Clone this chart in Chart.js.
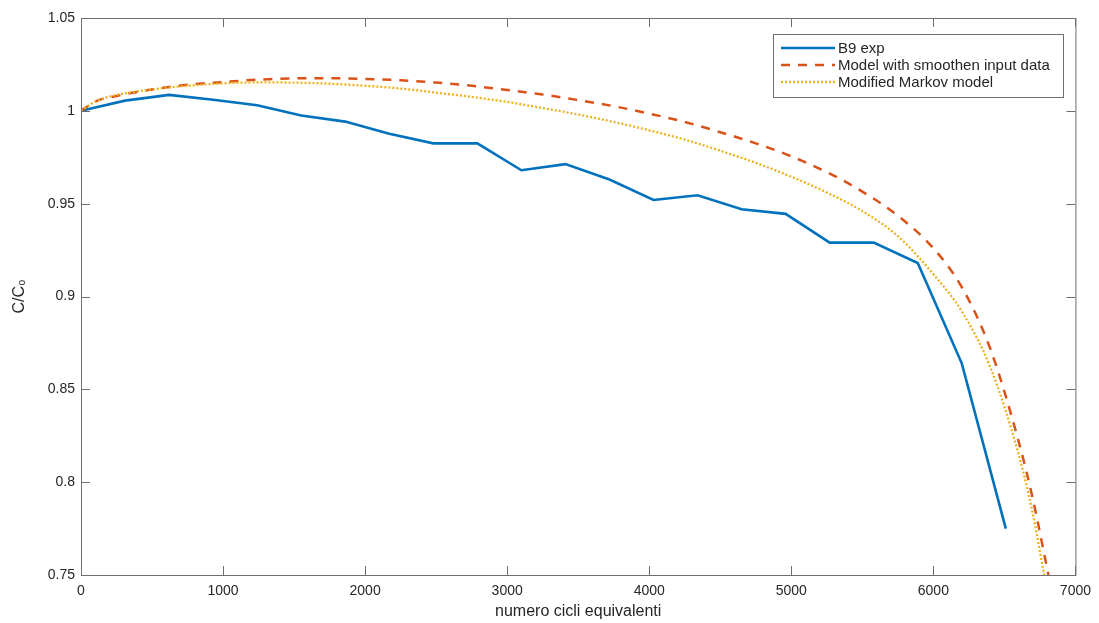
<!DOCTYPE html>
<html>
<head>
<meta charset="utf-8">
<script src="https://cdn.jsdelivr.net/npm/chart.js@4/dist/chart.umd.min.js"></script>
<style>
  html, body { margin: 0; padding: 0; background: #fff; }
  #c { display: block; }
</style>
</head>
<body>
<canvas id="c" width="1099" height="623"></canvas>
<script>
'use strict';
// B9 exp (measured points)
const expX = [0, 310, 620, 930, 1240, 1550, 1860, 2170, 2480, 2790, 3100, 3410, 3720, 4030, 4340, 4650, 4960, 5270, 5580, 5890, 6200, 6510];
const expY = [1.000, 1.0055, 1.0086, 1.006, 1.003, 0.9975, 0.9942, 0.9876, 0.9825, 0.9825, 0.968, 0.9713, 0.963, 0.952, 0.9545, 0.947, 0.9445, 0.929, 0.929, 0.918, 0.864, 0.775];

// Model with smoothen input data
const smoothX = [0, 100, 250, 500, 750, 1000, 1250, 1500, 1750, 2000, 2250, 2500, 2750, 3000, 3250, 3500, 3750, 4000, 4250, 4500, 4750, 5000, 5250, 5500, 5750, 6000, 6200, 6400, 6600, 6700, 6810];
const smoothY = [1.000, 1.005, 1.008, 1.0115, 1.014, 1.0155, 1.0168, 1.0175, 1.0176, 1.0172, 1.0165, 1.0152, 1.0135, 1.0112, 1.0088, 1.0058, 1.0025, 0.9985, 0.994, 0.9885, 0.9825, 0.9755, 0.967, 0.9565, 0.9435, 0.926, 0.905, 0.872, 0.822, 0.791, 0.750];

// Modified Markov model
const markovX = [0, 100, 250, 500, 750, 1000, 1250, 1500, 1750, 2000, 2250, 2500, 2750, 3000, 3250, 3500, 3750, 4000, 4250, 4500, 4750, 5000, 5250, 5500, 5750, 6000, 6200, 6400, 6600, 6700, 6780];
const markovY = [1.000, 1.005, 1.0085, 1.0115, 1.0135, 1.0148, 1.0153, 1.0152, 1.0146, 1.0135, 1.012, 1.0098, 1.0075, 1.0048, 1.0015, 0.998, 0.994, 0.9895, 0.9845, 0.9785, 0.972, 0.9645, 0.956, 0.946, 0.9325, 0.912, 0.892, 0.862, 0.815, 0.783, 0.750];

const seriesLabels = ['B9 exp', 'Model with smoothen input data', 'Modified Markov model'];
const xTitle = 'numero cicli equivalenti';
const yTitle = 'C/C\u2080';

const FONT = "'Liberation Sans', Arial, Helvetica, sans-serif";
const TEXT = '#262626';
const AXIS = '#6f6f6f';

const pts = (xs, ys) => xs.map((x, i) => ({ x, y: ys[i] }));

// box round the plot, with inward ticks on all four sides (MATLAB style)
const framePlugin = {
  id: 'frame',
  afterDatasetsDraw(chart) {
    const { ctx, chartArea: a, scales } = chart;
    const len = 9;
    ctx.save();
    ctx.strokeStyle = AXIS;
    ctx.lineWidth = 1;
    ctx.strokeRect(a.left + 0.5, a.top + 0.5, a.right - a.left, a.bottom - a.top);
    ctx.beginPath();
    scales.x.ticks.forEach(t => {
      const px = Math.round(scales.x.getPixelForValue(t.value)) + 0.5;
      ctx.moveTo(px, a.bottom); ctx.lineTo(px, a.bottom - len);
      ctx.moveTo(px, a.top); ctx.lineTo(px, a.top + len);
    });
    scales.y.ticks.forEach(t => {
      const py = Math.round(scales.y.getPixelForValue(t.value)) + 0.5;
      ctx.moveTo(a.left, py); ctx.lineTo(a.left + len, py);
      ctx.moveTo(a.right, py); ctx.lineTo(a.right - len, py);
    });
    ctx.stroke();
    ctx.restore();
  }
};

// legend box inside the plot, top right
const legendPlugin = {
  id: 'boxLegend',
  afterDraw(chart) {
    const { ctx } = chart;
    const x0 = 773, y0 = 34, w = 290, h = 63;
    ctx.save();
    ctx.fillStyle = '#fff';
    ctx.fillRect(x0, y0, w, h);
    ctx.strokeStyle = AXIS;
    ctx.lineWidth = 1;
    ctx.strokeRect(x0 + 0.5, y0 + 0.5, w, h);
    ctx.font = '15px ' + FONT;
    ctx.textBaseline = 'middle';
    chart.data.datasets.forEach((ds, i) => {
      const y = y0 + 14 + i * 17;
      ctx.strokeStyle = ds.borderColor;
      ctx.lineWidth = ds.borderWidth;
      ctx.setLineDash(ds.borderDash || []);
      ctx.beginPath();
      ctx.moveTo(x0 + 8, y); ctx.lineTo(x0 + 62, y);
      ctx.stroke();
      ctx.setLineDash([]);
      ctx.fillStyle = TEXT;
      ctx.fillText(ds.label, x0 + 65, y + 1);
    });
    ctx.restore();
  }
};

new Chart(document.getElementById('c'), {
  type: 'line',
  data: {
    datasets: [
      { label: seriesLabels[0], data: pts(expX, expY), borderColor: '#0072BD', borderWidth: 2.6, pointRadius: 0, tension: 0, order: 2 },
      { label: seriesLabels[1], data: pts(smoothX, smoothY), borderColor: '#D95319', borderWidth: 2.5, borderDash: [9, 8], pointRadius: 0, cubicInterpolationMode: 'monotone', order: 1 },
      { label: seriesLabels[2], data: pts(markovX, markovY), borderColor: '#EDB120', borderWidth: 2.3, borderDash: [2, 2], pointRadius: 0, cubicInterpolationMode: 'monotone', order: 0 },
    ],
  },
  options: {
    responsive: false, animation: false,
    layout: { padding: { top: 18, right: 17, left: 0, bottom: 0 } },
    plugins: { legend: { display: false }, tooltip: { enabled: false } },
    scales: {
      x: {
        type: 'linear', min: 0, max: 7000,
        grid: { display: false, drawTicks: false }, border: { display: false },
        ticks: { stepSize: 1000, padding: 8, color: TEXT, font: { family: FONT, size: 14 }, maxRotation: 0, callback: (v) => String(v) },
        title: { display: true, text: xTitle, color: TEXT, font: { family: FONT, size: 16 }, padding: { top: 0, bottom: 2 } },
        afterFit: (s) => { s.height = 48; },
      },
      y: {
        min: 0.75, max: 1.05,
        grid: { display: false, drawTicks: false }, border: { display: false },
        ticks: { stepSize: 0.05, padding: 6, color: TEXT, font: { family: FONT, size: 14 }, callback: (v) => String(+v.toFixed(2)) },
        title: { display: true, text: yTitle, color: TEXT, font: { family: FONT, size: 16 }, padding: { top: 10, bottom: 0 } },
        afterFit: (s) => { s.width = 81; },
      },
    },
  },
  plugins: [framePlugin, legendPlugin],
});
</script>
</body>
</html>
